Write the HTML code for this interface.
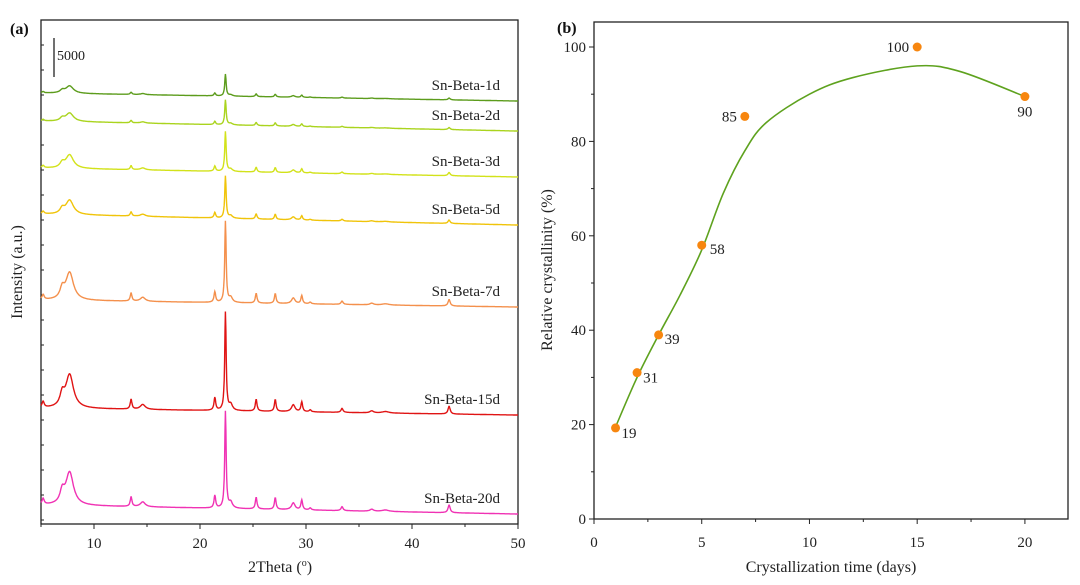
<!DOCTYPE html>
<html><head><meta charset="utf-8">
<style>
body{margin:0;background:#fff;}
svg{display:block;font-family:"Liberation Serif",serif;}
</style></head>
<body>
<svg id="chart" width="1080" height="585" viewBox="0 0 1080 585">
<g id="pa"></g>
<g id="pb"></g>
</svg>
<script>
// ---------- Panel (a) data ----------
const seriesNames = ["Sn-Beta-1d","Sn-Beta-2d","Sn-Beta-3d","Sn-Beta-5d","Sn-Beta-7d","Sn-Beta-15d","Sn-Beta-20d"];
const seriesColors = ["#5c9c1c","#aad41e","#d2e21a","#f0c40a","#f4904c","#e01414","#f032b4"];
const seriesMainCounts = [2800,3200,5100,5400,10400,12600,12400];
const seriesOffsetLeft = [55260,51670,45640,39740,28720,14870,2440];
const seriesOffsetRight = [54230,50380,44490,38330,27820,13970,1280];
const peakPos =   [5.2, 7.0, 7.7, 13.5, 14.6, 21.4, 22.4, 22.9, 25.3, 27.1, 28.8, 29.6, 30.4, 33.4, 36.2, 37.5, 43.5];
const peakRel =   [0.06,0.12,0.34,0.10, 0.05, 0.13, 1.0,  0.06, 0.12, 0.12, 0.07, 0.10, 0.02, 0.04, 0.02, 0.015,0.08];
const peakWidth = [0.15,0.3, 0.55,0.12, 0.35, 0.12, 0.10, 0.25, 0.12, 0.12, 0.25, 0.12, 0.15, 0.15, 0.25, 0.5,  0.15];
const xTicksA = [10,20,30,40,50];

// ---------- Panel (b) data ----------
const days = [1,2,3,5,7,15,20];
const crystallinity = [19.3,31,39,58,85.3,100,89.5];
const pointLabels = ["19","31","39","58","85","100","90"];
const fitDays = [1,2,3,4,5,6,7,8,10,12,15,17,20];
const fitValues = [19.5,30,39,47.5,57,69,78,84,90,93.5,96,94.8,89.5];
const xTicksB = [0,5,10,15,20];
const yTicksB = [0,20,40,60,80,100];

const NS="http://www.w3.org/2000/svg";
function mk(tag,attrs,parent){const e=document.createElementNS(NS,tag);for(const k in attrs)e.setAttribute(k,attrs[k]);parent.appendChild(e);return e;}

// Panel A
const pa=document.getElementById('pa');
const AL=41,AR=518,AT=20,AB=524;
const xa=v=>AL+(v-5)/45*(AR-AL);
const CPX=39/5000; // px per count
const ya=c=>AB-c*CPX;
let fr=mk('rect',{x:AL,y:AT,width:AR-AL,height:AB-AT,fill:'none',stroke:'#222','stroke-width':1.3},pa);


for(let v=5;v<=50;v+=5){
  const t=mk('line',{x1:xa(v),x2:xa(v),y1:AB,y2:AB+(v%10===0?5:3),stroke:'#222','stroke-width':1},pa);
  
  
}
for(let y=AT+25;y<AB;y+=25){
  const t=mk('line',{x1:AL,x2:AL+3,y1:y,y2:y,stroke:'#222','stroke-width':1},pa);
  
  
}
xTicksA.forEach(v=>{
  const t=mk('text',{x:xa(v),y:548,'text-anchor':'middle','font-size':15,fill:'#222'},pa);
  t.textContent=v;
  
  
});
let tt=mk('text',{x:280,y:572,'text-anchor':'middle','font-size':16,fill:'#222'},pa);
tt.innerHTML='2Theta (<tspan dy="-6" font-size="10">o</tspan><tspan dy="6">)</tspan>';


tt=mk('text',{x:0,y:0,'text-anchor':'middle','font-size':16,fill:'#222',transform:'translate(22,272) rotate(-90)'},pa);
tt.textContent='Intensity (a.u.)';


tt=mk('text',{x:10,y:34,'font-size':16,'font-weight':'bold',fill:'#111'},pa);
tt.textContent='(a)';


let sb=mk('line',{x1:54,x2:54,y1:38,y2:77,stroke:'#222','stroke-width':1.3},pa);


tt=mk('text',{x:57,y:60,'font-size':14,fill:'#222'},pa);
tt.textContent='5000';



function pattern(t){
  let s=0;
  for(let i=0;i<peakPos.length;i++){const d=(t-peakPos[i])/peakWidth[i];s+=peakRel[i]/(1+d*d*1.6);}
  return s;
}
seriesNames.forEach((nm,si)=>{
  let d='';
  for(let t=5;t<=50.001;t+=0.04){
    const off=seriesOffsetLeft[si]+(seriesOffsetRight[si]-seriesOffsetLeft[si])*(t-5)/45;
    const c=off+seriesMainCounts[si]*pattern(t);
    d+=(d?'L':'M')+xa(t).toFixed(1)+','+ya(c).toFixed(1);
  }
  const p=mk('path',{d:d,fill:'none',stroke:seriesColors[si],'stroke-width':1.4},pa);
  
  
  const yl=ya(seriesOffsetRight[si])-11;
  const lb=mk('text',{x:500,y:yl,'text-anchor':'end','font-size':15,fill:'#222'},pa);
  lb.textContent=nm;
  
  
});

// Panel B
const pb=document.getElementById('pb');
const BL=594,BR=1068,BT=22,BB=519;
const xb=v=>BL+v/22*(BR-BL);
const yb=v=>BB-v/100*(BB-47);
fr=mk('rect',{x:BL,y:BT,width:BR-BL,height:BB-BT,fill:'none',stroke:'#222','stroke-width':1.3},pb);


for(let v=0;v<=22;v+=2.5){
  const t=mk('line',{x1:xb(v),x2:xb(v),y1:BB,y2:BB+(v%5===0?5:3),stroke:'#222','stroke-width':1},pb);
  
  
}
for(let v=0;v<=100;v+=10){
  const t=mk('line',{x1:BL-(v%20===0?5:3),x2:BL,y1:yb(v),y2:yb(v),stroke:'#222','stroke-width':1},pb);
  
  
}
xTicksB.forEach(v=>{
  const t=mk('text',{x:xb(v),y:547,'text-anchor':'middle','font-size':15,fill:'#222'},pb);
  t.textContent=v;
  
  
});
yTicksB.forEach(v=>{
  const t=mk('text',{x:BL-8,y:yb(v)+5,'text-anchor':'end','font-size':15,fill:'#222'},pb);
  t.textContent=v;
  
  
});
tt=mk('text',{x:831,y:572,'text-anchor':'middle','font-size':16,fill:'#222'},pb);
tt.textContent='Crystallization time (days)';


tt=mk('text',{x:0,y:0,'text-anchor':'middle','font-size':16,fill:'#222',transform:'translate(552,270) rotate(-90)'},pb);
tt.textContent='Relative crystallinity (%)';


tt=mk('text',{x:557,y:33,'font-size':16,'font-weight':'bold',fill:'#111'},pb);
tt.textContent='(b)';



// smooth fit line (Catmull-Rom)
const P=fitDays.map((d,i)=>[xb(d),yb(fitValues[i])]);
let d='M'+P[0][0]+','+P[0][1];
for(let i=0;i<P.length-1;i++){
  const p0=P[i-1]||P[i],p1=P[i],p2=P[i+1],p3=P[i+2]||P[i+1];
  const c1=[p1[0]+(p2[0]-p0[0])/6,p1[1]+(p2[1]-p0[1])/6];
  const c2=[p2[0]-(p3[0]-p1[0])/6,p2[1]-(p3[1]-p1[1])/6];
  d+='C'+c1.join(',')+' '+c2.join(',')+' '+p2.join(',');
}
const fl=mk('path',{d:d,fill:'none',stroke:'#5ea21e','stroke-width':1.6},pb);


const lblOff=[[6,10],[6,10],[6,9],[8,9],[-8,5],[-8,5],[0,20]];
days.forEach((dd,i)=>{
  const c=mk('circle',{cx:xb(dd),cy:yb(crystallinity[i]),r:4.5,fill:'#f7860f'},pb);
  
  
  const o=lblOff[i];
  const t=mk('text',{x:xb(dd)+o[0],y:yb(crystallinity[i])+o[1],'text-anchor':o[0]<0?'end':(o[0]===0?'middle':'start'),'font-size':15,fill:'#222'},pb);
  t.textContent=pointLabels[i];
  
  
});
</script>
</body></html>
